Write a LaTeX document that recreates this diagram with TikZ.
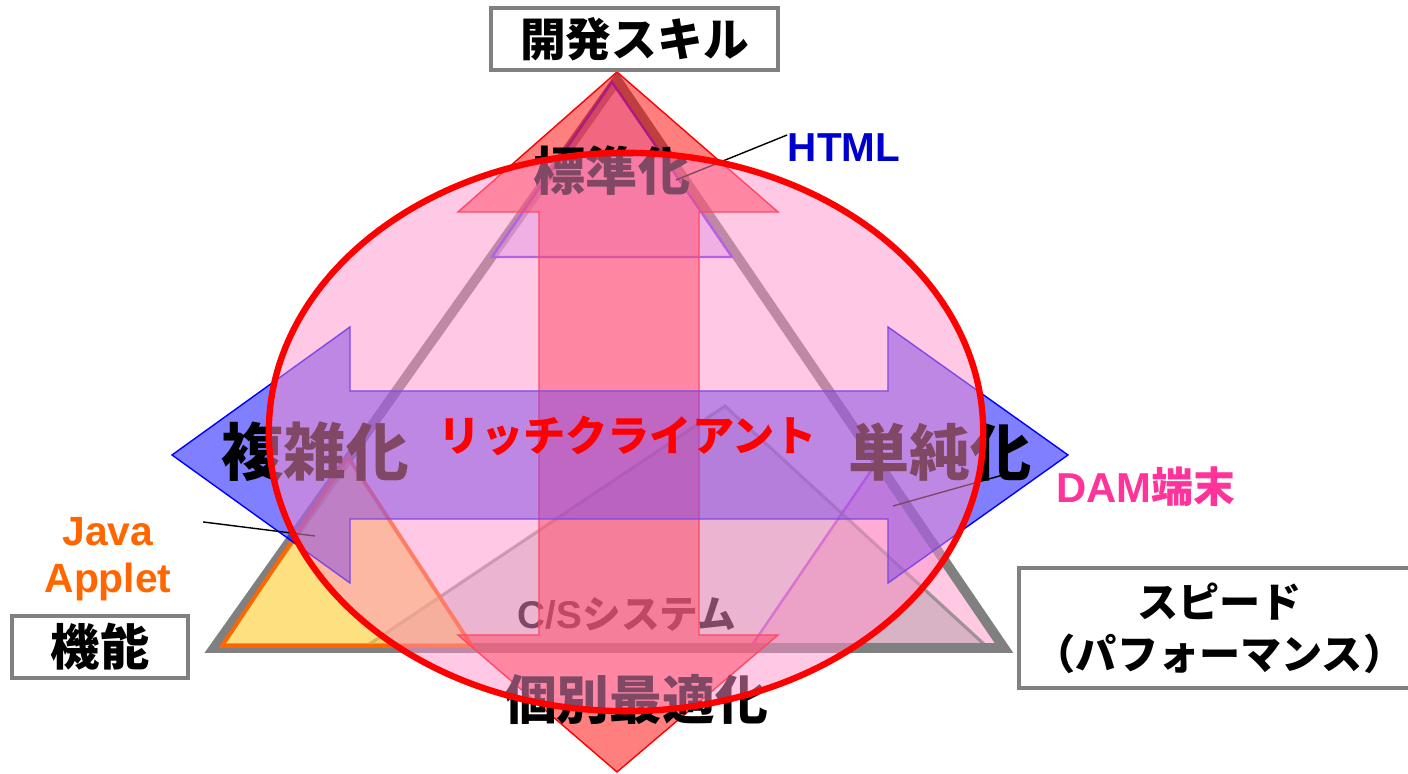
\documentclass[tikz,border=0pt]{standalone}
\usepackage{fontspec}
\setmainfont{Liberation Sans}
\newfontfamily\jp{Noto Sans CJK JP}
\usetikzlibrary{positioning}
\definecolor{framegray}{RGB}{128,128,128}
\definecolor{ellpink}{RGB}{255,145,201}
\definecolor{htmlblue}{RGB}{0,0,204}
\definecolor{htmlline}{RGB}{102,51,255}
\definecolor{htmlfill}{RGB}{200,160,255}
\definecolor{javaorange}{RGB}{255,102,0}
\definecolor{javafill}{RGB}{252,202,36}
\definecolor{dampink}{RGB}{255,51,153}
\definecolor{damline}{RGB}{204,64,255}
\tikzstyle{corner} = [rectangle, draw=framegray, line width=1.1pt, fill=white, align=center, inner sep=0pt]
\tikzstyle{leader} = [black, line width=0.4pt]

\begin{document}
\begin{tikzpicture}[x=0.01cm, y=-0.01cm,
frame/.style={draw=framegray, line width=2.8pt, line join=miter},
cstri/.style={draw=framegray, draw opacity=0.7, line width=0.9pt, fill=framegray, fill opacity=0.3},
javatri/.style={draw=javaorange, line width=1.1pt, fill=javafill, fill opacity=0.58},
htmltri/.style={draw=htmlline, line width=0.7pt, fill=htmlfill, fill opacity=0.5},
damtri/.style={draw=damline, line width=0.7pt, fill=dampink, fill opacity=0.27},
varrow/.style={draw=red, line width=0.4pt, fill=red, fill opacity=0.5},
harrow/.style={draw=blue, line width=0.4pt, fill=blue, fill opacity=0.5},
cloud/.style={draw=red, line width=1.8pt, fill=ellpink, fill opacity=0.5},
trend/.style={inner sep=0pt, font=\jp\bfseries\fontsize{#1}{#1}\selectfont},
tech/.style={inner sep=0pt, align=center, font=\bfseries\fontsize{#1}{13.4pt}\selectfont}
]

\useasboundingbox (0,0) rectangle (1408,774);

\draw [damtri] (875,465) -- (750,648) -- (1004,648) -- cycle;
\draw [frame] (617,80) -- (214,648) -- (1004,648) -- cycle;
\draw [cstri] (725,406) -- (368,645) -- (985,645) -- cycle;
\node (cs) [tech=11pt, text=black] at (627,614) {C/S{\jp システム}};

\draw [javatri] (348,457) -- (222,646) -- (472,646) -- cycle;
\draw [htmltri] (612,82) -- (492,257) -- (732,257) -- cycle;

\draw [varrow] (617,72) -- (778,212) -- (699,212) -- (699,635) -- (778,635) -- (617,772) -- (458,635) -- (539,635) -- (539,212) -- (458,212) -- cycle;
\draw [harrow] (172,455) -- (350,327) -- (350,391) -- (888,391) -- (888,327) -- (1068,455) -- (888,583) -- (888,519) -- (350,519) -- (350,583) -- cycle;

\node (hyoujun) [trend=14.8pt] at (612,171) {標準化};
\node (fukuzatsu) [trend=17.8pt] at (315,452) {複雑化};
\node (tanjun) [trend=17.4pt] at (940,452) {単純化};
\node (kobetsu) [trend=15pt] at (636,700) {個別最適化};

\node (kinou) [corner, minimum width=1.76cm, minimum height=0.62cm, font=\jp\bfseries\fontsize{14pt}{14pt}\selectfont] at (100,647) {機能};
\node (html) [tech=11.5pt, text=htmlblue] at (844,148) {HTML};
\node (java) [tech=11.6pt, text=javaorange, above=0.12cm of kinou, xshift=0.08cm] {Java\\Applet};
\node (dam) [tech=11.9pt, text=dampink] at (1146,487) {DAM{\jp 端末}};

\coordinate (htmlspot) at (676,180);
\coordinate (javaspot) at (315,536);
\coordinate (damtip) at (1003,475);
\coordinate (damspot) at (893,506);

\draw [leader] ([yshift=0.13cm]html.west) -- (htmlspot);
\draw [leader] ([xshift=0.31cm, yshift=-0.05cm]java.north east) -- (javaspot);
\draw [leader] (damtip) -- (damspot);

\draw [cloud] (626,432) ellipse [x radius=3.57cm, y radius=2.79cm];

\node (rich) [trend=12pt, text=red] at (628,436) {リッチクライアント};

\node (skill) [corner, minimum width=2.87cm, minimum height=0.62cm, font=\jp\bfseries\fontsize{13pt}{13pt}\selectfont] at (634.5,39) {開発スキル};
\node (speed) [corner, minimum width=4.01cm, minimum height=1.2cm, font=\jp\bfseries\fontsize{11.7pt}{14.8pt}\selectfont] at (1219.5,628) {スピード\\（パフォーマンス）};
\end{tikzpicture}
\end{document}
